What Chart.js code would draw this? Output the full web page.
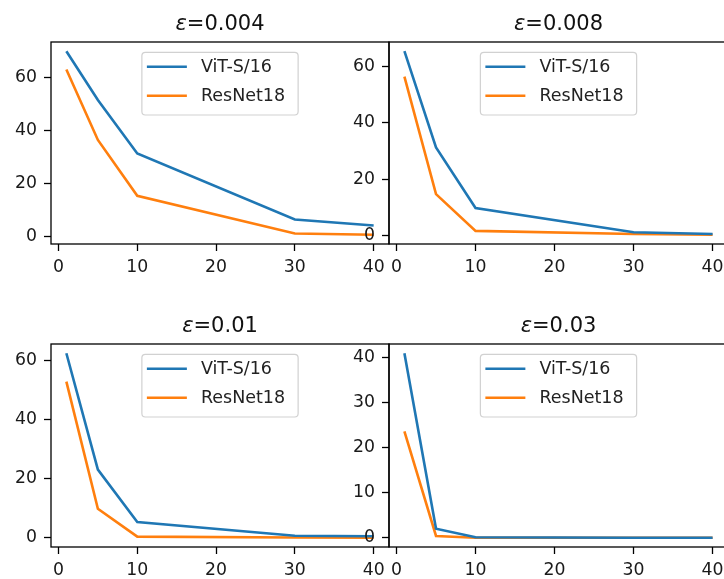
<!DOCTYPE html>
<html>
<head>
<meta charset="utf-8">
<script src="https://cdn.jsdelivr.net/npm/chart.js@4.4.0/dist/chart.umd.min.js"></script>
<style>
  body { margin: 0; background: #fff; overflow: hidden; width: 724px; height: 579px; position: relative; }
  canvas { position: absolute; left: 0; top: 0; }
</style>
</head>
<body>
<canvas id="p1" width="740" height="579"></canvas>
<canvas id="p2" width="740" height="579"></canvas>
<canvas id="p3" width="740" height="579"></canvas>
<canvas id="p4" width="740" height="579"></canvas>
<script>
// x values (steps) shared by all panels
const steps = [1, 5, 10, 30, 40];
const seriesNames = ['ViT-S/16', 'ResNet18'];
const seriesColors = ['#1f77b4', '#ff7f0e'];
const epsLabels = ['0.004', '0.008', '0.01', '0.03'];

// values
const vit004 = [70.1, 51.7, 31.5, 6.6, 4.3];
const res004 = [63.2, 36.6, 15.5, 1.3, 0.8];
const vit008 = [65.3, 31.2, 9.8, 1.2, 0.6];
const res008 = [56.3, 14.7, 1.7, 0.6, 0.3];
const vit01 = [62.3, 23.0, 5.3, 0.7, 0.5];
const res01 = [52.7, 9.8, 0.4, 0.1, 0.0];
const vit03 = [40.9, 2.0, 0.1, 0.0, 0.0];
const res03 = [23.6, 0.4, 0.0, 0.0, 0.0];

const xTickStep = 10;
const yTickSteps = [20, 20, 20, 10];

// where each axes box sits on the page (left, right, top, bottom)
const boxes = [
    { L: 51, R: 389, T: 42, B: 244 },
    { L: 389, R: 728, T: 42, B: 244 },
    { L: 51, R: 389, T: 344, B: 547 },
    { L: 389, R: 728, T: 344, B: 547 }
];

const FONT = '"DejaVu Sans", sans-serif';
const CW = 740, CH = 579;

// matplotlib-like 5% margins
function padRange(vals) {
    const lo = Math.min(...vals), hi = Math.max(...vals);
    const m = (hi - lo) * 0.05;
    return [lo - m, hi + m];
}

// title with italic epsilon
const epsTitle = {
    id: 'epsTitle',
    afterDraw(chart, args, opts) {
        const ctx = chart.ctx, a = chart.chartArea;
        ctx.save();
        ctx.fillStyle = '#111';
        ctx.textBaseline = 'alphabetic';
        ctx.font = 'italic 21px ' + FONT;
        const w1 = ctx.measureText('ε').width;
        ctx.font = '21px ' + FONT;
        const rest = '=' + opts.text;
        const w2 = ctx.measureText(rest).width;
        const x0 = (a.left + a.right) / 2 - (w1 + w2) / 2;
        const y = a.top - 12;
        ctx.font = 'italic 21px ' + FONT;
        ctx.fillText('ε', x0, y);
        ctx.font = '21px ' + FONT;
        ctx.fillText(rest, x0 + w1, y);
        ctx.restore();
    }
};

// legend drawn inside the axes, upper center
const insideLegend = {
    id: 'insideLegend',
    afterDatasetsDraw(chart) {
        const ctx = chart.ctx, a = chart.chartArea;
        ctx.save();
        ctx.font = '17.5px ' + FONT;
        const sets = chart.data.datasets;
        const tw = Math.max(...sets.map(d => ctx.measureText(d.label).width));
        const w = 59 + tw + 13, h = 62.7;
        const x = (a.left + a.right) / 2 - w / 2, y = a.top + 10.3;
        ctx.beginPath();
        ctx.roundRect(x, y, w, h, 3.5);
        ctx.fillStyle = 'rgba(255,255,255,0.8)';
        ctx.fill();
        ctx.strokeStyle = 'rgba(204,204,204,0.9)';
        ctx.lineWidth = 1.2;
        ctx.stroke();
        sets.forEach(function (d, i) {
            const ly = y + 14.4 + i * 29;
            ctx.strokeStyle = d.borderColor;
            ctx.lineWidth = 2.6;
            ctx.beginPath();
            ctx.moveTo(x + 5, ly);
            ctx.lineTo(x + 45, ly);
            ctx.stroke();
            ctx.fillStyle = '#222';
            ctx.textBaseline = 'middle';
            ctx.fillText(d.label, x + 59, ly + 1);
        });
        ctx.restore();
    }
};

// black frame around the axes
const frame = {
    id: 'frame',
    afterDraw(chart) {
        const ctx = chart.ctx, a = chart.chartArea;
        ctx.save();
        ctx.strokeStyle = '#000';
        ctx.lineWidth = 1.3;
        ctx.strokeRect(a.left, a.top, a.right - a.left, a.bottom - a.top);
        ctx.restore();
    }
};

function makePanel(id, eps, vit, res, yStep, box) {
    const yr = padRange(vit.concat(res));
    const xr = padRange(steps);
    const YW = 50, XH = 40;
    const tickFont = { family: FONT, size: 17.3 };
    new Chart(document.getElementById(id), {
        type: 'line',
        data: {
            datasets: [vit, res].map(function (vals, i) {
                return {
                    label: seriesNames[i],
                    data: steps.map((s, k) => ({ x: s, y: vals[k] })),
                    borderColor: seriesColors[i],
                    backgroundColor: seriesColors[i],
                    borderWidth: 2.6,
                    pointRadius: 0,
                    tension: 0,
                    fill: false
                };
            })
        },
        options: {
            responsive: false,
            animation: false,
            devicePixelRatio: 1,
            layout: {
                padding: { left: box.L - YW, right: CW - box.R, top: box.T, bottom: CH - box.B - XH }
            },
            plugins: {
                legend: { display: false },
                title: { display: false },
                tooltip: { enabled: false },
                epsTitle: { text: eps }
            },
            scales: {
                x: {
                    type: 'linear',
                    min: xr[0],
                    max: xr[1],
                    afterFit: function (s) { s.height = XH; },
                    border: { display: false },
                    grid: { drawOnChartArea: false, tickLength: 7, tickColor: '#000', tickWidth: 1.3 },
                    ticks: { stepSize: xTickStep, includeBounds: false, color: '#1a1a1a', font: tickFont, padding: 6, maxRotation: 0 }
                },
                y: {
                    min: yr[0],
                    max: yr[1],
                    afterFit: function (s) { s.width = YW; },
                    border: { display: false },
                    grid: { drawOnChartArea: false, tickLength: 7, tickColor: '#000', tickWidth: 1.3 },
                    ticks: { stepSize: yStep, includeBounds: false, color: '#1a1a1a', font: tickFont, padding: 7 }
                }
            }
        },
        plugins: [insideLegend, frame, epsTitle]
    });
}

makePanel('p1', epsLabels[0], vit004, res004, yTickSteps[0], boxes[0]);
makePanel('p2', epsLabels[1], vit008, res008, yTickSteps[1], boxes[1]);
makePanel('p3', epsLabels[2], vit01, res01, yTickSteps[2], boxes[2]);
makePanel('p4', epsLabels[3], vit03, res03, yTickSteps[3], boxes[3]);
</script>
</body>
</html>
